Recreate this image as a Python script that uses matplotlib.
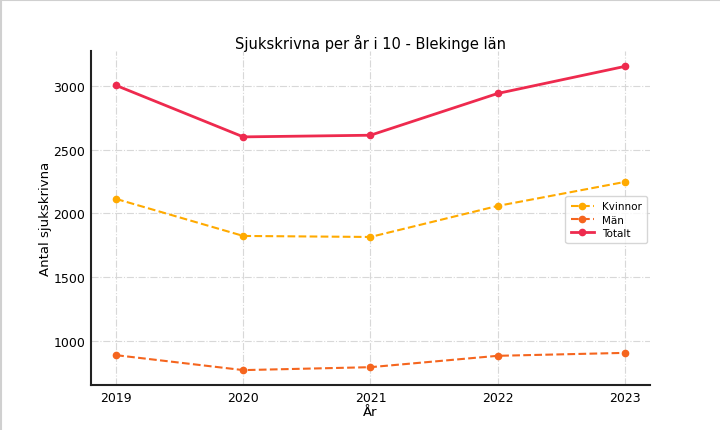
import matplotlib.pyplot as plt
from matplotlib.lines import Line2D

# Data
years = [2019, 2020, 2021, 2022, 2023]
kvinnor = [2114, 1824, 1816, 2059, 2247]
man = [890, 773, 796, 885, 908]
totalt = [3003, 2600, 2613, 2940, 3152]

fig = plt.figure(figsize=(7.2, 4.31), dpi=100)
ax = fig.add_axes([0.126, 0.104, 0.777, 0.776])

ax.plot(years, kvinnor, color='#FFAA00', linestyle='--', marker='o', markersize=4.5,
        linewidth=1.5, label='Kvinnor')
ax.plot(years, man, color='#F5651E', linestyle='--', marker='o', markersize=4.5,
        linewidth=1.5, label='Män')
ax.plot(years, totalt, color='#EE2A4E', linestyle='-', marker='o', markersize=4.5,
        linewidth=2, label='Totalt')

ax.set_xlim(2018.8, 2023.2)
ax.set_ylim(655, 3275)
ax.set_xticks(years)
ax.set_yticks([1000, 1500, 2000, 2500, 3000])

ax.set_title('Sjukskrivna per år i 10 - Blekinge län', fontsize=10.5, pad=2)
ax.set_xlabel('År', fontsize=9.5, labelpad=1)
ax.set_ylabel('Antal sjukskrivna', fontsize=9.5, labelpad=1)

ax.grid(True, color='#d8d8d8', linestyle='-.', linewidth=0.8)
ax.set_axisbelow(True)
for side in ['top', 'right']:
    ax.spines[side].set_visible(False)
for side in ['left', 'bottom']:
    ax.spines[side].set_linewidth(1.5)
    ax.spines[side].set_color('#222222')
ax.tick_params(length=0, labelsize=9, pad=4)

ax.legend(loc='center right', bbox_to_anchor=(1.0, 0.495), fontsize=7.5,
          handlelength=2.2, borderpad=0.5, labelspacing=0.3, borderaxespad=0.3)

# light frame on top and left edge
fig.add_artist(Line2D([0, 1], [0.997, 0.997], color='#d0d0d0', linewidth=1.5))
fig.add_artist(Line2D([0.002, 0.002], [0, 1], color='#d0d0d0', linewidth=1.5))

fig.savefig('out.png', dpi=100)
